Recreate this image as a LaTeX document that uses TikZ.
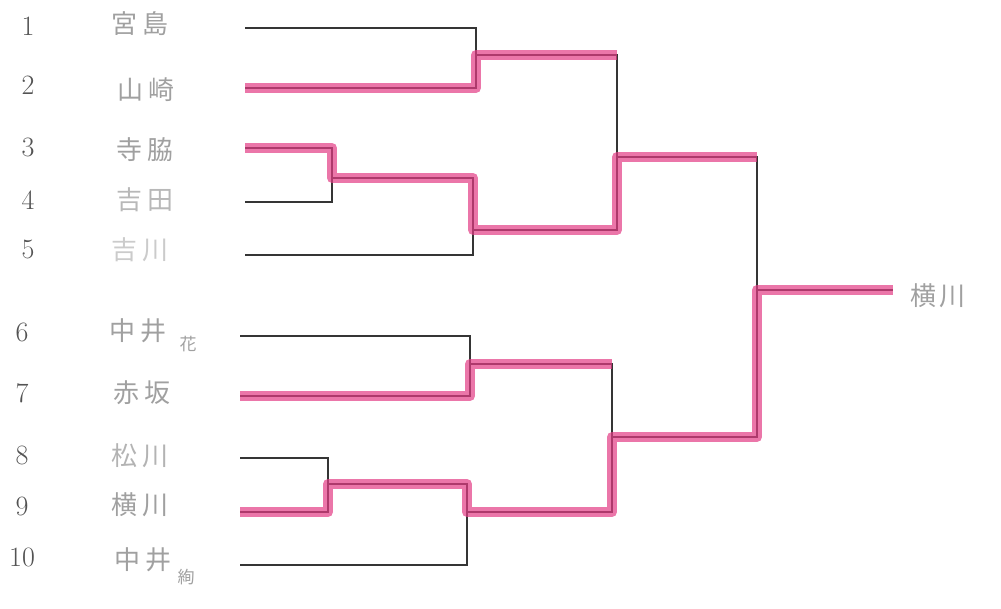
\documentclass[tikz,border=0pt]{standalone}
\usepackage{fontspec}
\newfontfamily\jp{Noto Sans CJK JP}
\definecolor{ink}{HTML}{353535}
\definecolor{hilite}{HTML}{E23C84}
\definecolor{pencil}{HTML}{A0A0A0}
\begin{document}
\begin{tikzpicture}[x=1pt,y=-1pt,
  wire/.style={draw=ink,line width=1.3pt},
  winpath/.style={draw=hilite,line width=10pt,line join=round,opacity=0.7},
  num/.style={font=\fontsize{28}{28}\selectfont,text=ink!85,inner sep=0pt},
  who/.style={font=\jp\fontsize{26}{26}\selectfont,text=pencil,inner sep=0pt},
  small/.style={font=\jp\fontsize{17}{17}\selectfont,text=pencil,inner sep=0pt}]
\path[use as bounding box] (0,0) rectangle (1001,608);
% player line starts
\coordinate (s1) at (245,28);
\coordinate (s2) at (245,88);
\coordinate (s3) at (245,148);
\coordinate (s4) at (245,202);
\coordinate (s5) at (245,255);
\coordinate (s6) at (240,336);
\coordinate (s7) at (240,396);
\coordinate (s8) at (240,458);
\coordinate (s9) at (240,512);
\coordinate (s10) at (240,565);
% junctions
\coordinate (j12) at (476,55);
\coordinate (j34) at (332,178);
\coordinate (j345) at (473,230);
\coordinate (jA) at (617,157);
\coordinate (j67) at (470,364);
\coordinate (j89) at (328,484);
\coordinate (j8910) at (467,512);
\coordinate (jB) at (612,437);
\coordinate (jF) at (757,290);
\coordinate (win) at (893,290);
% bracket lines
\draw[wire] (s1) -| (j12);
\draw[wire] (s2) -| (j12);
\draw[wire] (s3) -| (j34);
\draw[wire] (s4) -| (j34);
\draw[wire] (j34) -| (j345);
\draw[wire] (s5) -| (j345);
\draw[wire] (j12) -| (jA);
\draw[wire] (j345) -| (jA);
\draw[wire] (s6) -| (j67);
\draw[wire] (s7) -| (j67);
\draw[wire] (s8) -| (j89);
\draw[wire] (s9) -| (j89);
\draw[wire] (j89) -| (j8910);
\draw[wire] (s10) -| (j8910);
\draw[wire] (j67) -| (jB);
\draw[wire] (j8910) -| (jB);
\draw[wire] (jA) -| (jF);
\draw[wire] (jB) -| (jF);
\draw[wire] (jF) -- (win);
% winner highlights, drawn over the pencil lines like a marker
\begin{scope}[yshift=1pt,xshift=3pt]
\draw[winpath] (s2) -| (j12) -- (j12 -| jA);
\draw[winpath] (s3) -| (j34) -| (j345) -| (jA) -- (jA -| jF);
\draw[winpath] (s7) -| (j67) -- (j67 -| jB);
\draw[winpath] (s9) -| (j89) -| (j8910) -| (jB) -| (jF) -- (win);
\end{scope}
% numbers
\node[num] (n1) at (28,26) {1};
\node[num] (n2) at (28,85) {2};
\node[num] (n3) at (28,147) {3};
\node[num] (n4) at (28,200) {4};
\node[num] (n5) at (28,249) {5};
\node[num] (n6) at (22,332) {6};
\node[num] (n7) at (22,393) {7};
\node[num] (n8) at (22,455) {8};
\node[num] (n9) at (22,506) {9};
\node[num] (n10) at (22,557) {10};
% names
\node[who] (t1) at (140,24) {宮\hspace{6pt}島};
\node[who] (t2) at (146,90) {山\hspace{6pt}崎};
\node[who] (t3) at (145,150) {寺\hspace{6pt}脇};
\node[who,text=pencil!75] (t4) at (145,200) {吉\hspace{6pt}田};
\node[who,text=pencil!55] (t5) at (140,250) {吉\hspace{6pt}川};
\node[who] (t6) at (138,331) {中\hspace{6pt}井};
\node[small] (t6b) at (188,344) {花};
\node[who] (t7) at (142,393) {赤\hspace{6pt}坂};
\node[who,text=pencil!80] (t8) at (140,456) {松\hspace{6pt}川};
\node[who] (t9) at (140,505) {横\hspace{6pt}川};
\node[who] (t10) at (143,560) {中\hspace{6pt}井};
\node[small] (t10b) at (186,577) {絢};
\node[who] (tw) at (938,296) {横\hspace{4pt}川};
\end{tikzpicture}
\end{document}
